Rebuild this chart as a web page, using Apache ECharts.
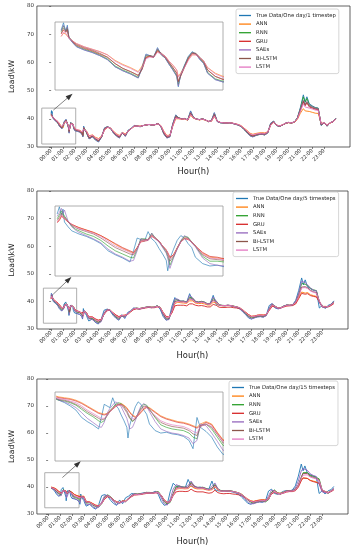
<!DOCTYPE html>
<html><head><meta charset="utf-8">
<script src="https://cdn.jsdelivr.net/npm/echarts@6/dist/echarts.min.js"></script>
<style>html,body{margin:0;padding:0;background:#fff}#c{width:353px;height:550px}</style>
</head><body><div id="c"></div>
<script>
// ---------- data ----------
const HOURS = [0,0.03,0.06,0.08,0.1,0.15,0.2,0.25,0.3,0.4,0.5,0.6,0.7,0.8,0.9,1,1.05,1.1,1.15,1.2,1.25,1.3,1.35,1.4,1.45,1.5,1.52,1.55,1.6,1.65,1.7,1.75,1.8,1.85,1.9,2,2.1,2.2,2.3,2.4,2.5,2.6,2.67,2.74,2.8,2.9,3,3.1,3.2,
 3.5,3.75, 4,4.25,4.5,4.75, 5,5.25,5.5,5.75, 6,6.25,6.5,6.75, 7,7.25,7.5,7.75, 8,8.25,8.5,8.75, 9,9.25,9.5,9.75, 10,10.25,10.5,10.75, 11,11.25,11.5,11.75, 12,12.25,12.5,12.75, 13,13.25,13.5,13.75, 14,14.25,14.5,14.75, 15,15.25,15.5,15.75, 16,16.25,16.5,16.75, 17,17.25,17.5,17.75, 18,18.25,18.5,18.75, 19,19.25,19.5,19.75, 20,20.25,20.5,20.75, 21,21.25,21.4,21.55,21.75, 22,22.25,22.5,22.75, 23,23.25,23.5,23.75, 23.98];
const TICK_HOURS = [0,1,2,3,4,5,6,7,8,9,10,11,12,13,14,15,16,17,18,19,20,21,22,23];
const TICK_LABELS = ['00:00','01:00','02:00','03:00','04:00','05:00','06:00','07:00','08:00','09:00','10:00','11:00','12:00','13:00','14:00','15:00','16:00','17:00','18:00','19:00','20:00','21:00','22:00','23:00'];
const Y_TICKS = [30,40,50,60,70,80];
const MODEL_NAMES = ['ANN','RNN','GRU','SAEs','Bi-LSTM','LSTM'];
const TRUE_NAMES = ['True Data/One day/1 timestep','True Data/One day/5 timesteps','True Data/One day/15 timesteps'];
const P3_START_HOUR = 0.25;

const TRUE_LOAD = [42.0,42.9,41.8,42.6,41.0,40.4,39.9,39.7,39.5,39.2,38.8,38.3,37.4,36.9,36.5,36.0,37.4,39.0,38.8,38.6,39.8,38.9,38.5,37.7,37.0,36.2,34.9,36.4,37.6,38.7,39.3,39.0,38.3,37.8,36.6,35.8,35.5,35.6,35.4,35.3,35.1,34.6,33.6,37.4,36.2,35.7,35.0,33.8,32.9,
 33.6,32.4, 31.8,33.5,36.8,37.2, 36.6,35.0,33.9,33.2, 35.2,33.8,36.0,36.6, 37.6,37.4,37.2,37.6, 37.8,38.0,37.7,37.9, 38.4,37.2,34.6,33.2, 33.6,38.3,41.4,40.3, 40.0,40.1,39.6,42.8, 40.4,39.9,39.7,40.0, 39.6,39.0,39.3,42.2, 39.0,38.6,38.5,38.4, 38.6,38.4,38.1,37.8, 37.3,36.2,35.2,34.0, 33.6,34.1,34.4,34.5, 34.3,35.0,38.5,39.2, 37.6,37.3,37.8,38.4, 38.7,38.5,38.9,40.4, 44.0,48.5,46.0,47.8,45.3, 44.6,44.0,43.8,37.6, 38.6,37.4,38.6,39.0, 40.2];

// panel 1: one day / 1 timestep
const P1_ANN = [41.2,41.6,41.5,41.6,41.0,40.6,40.3,40.1,39.9,39.6,39.3,38.9,38.2,37.7,37.3,36.8,37.5,38.6,38.7,38.6,39.3,39.0,38.7,38.1,37.6,37.0,36.2,36.6,37.4,38.3,38.9,38.9,38.5,38.1,37.3,36.6,36.2,36.2,36.0,35.9,35.8,35.4,34.8,36.3,36.2,36.0,35.6,34.8,34.0,
 34.3,33.4, 33.0,33.9,36.0,36.9, 36.7,35.6,34.7,34.1, 35.2,34.6,35.8,36.5, 37.3,37.4,37.4,37.6, 37.8,38.0,37.8,37.9, 38.2,37.6,35.6,34.1, 34.2,37.4,40.0,40.0, 39.8,39.9,39.5,41.2, 40.2,39.8,39.6,39.8, 39.5,39.0,39.1,40.8, 39.2,38.7,38.6,38.5, 38.6,38.5,38.2,38.0, 37.6,36.7,35.9,34.9, 34.5,34.8,35.0,35.1, 35.0,35.4,37.7,38.7, 37.8,37.5,37.9,38.3, 38.6,38.5,38.8,39.8, 42.0,43.6,42.8,43.2,42.6, 42.3,42.0,41.9,38.4, 38.5,37.9,38.5,38.9, 39.8];
const P1_RNN = [41.8,42.5,41.9,42.3,41.1,40.5,40.0,39.8,39.6,39.3,38.9,38.4,37.5,37.0,36.6,36.1,37.2,38.8,38.8,38.6,39.6,38.9,38.5,37.8,37.1,36.3,35.2,36.3,37.5,38.6,39.2,39.0,38.4,37.9,36.7,35.9,35.6,35.7,35.5,35.4,35.2,34.7,33.8,37.0,36.3,35.8,35.1,33.9,33.0,
 33.7,32.5, 32.0,33.6,36.6,37.2, 36.6,35.1,34.0,33.3, 35.1,33.9,35.9,36.6, 37.5,37.4,37.2,37.6, 37.8,38.0,37.7,37.9, 38.3,37.2,34.7,33.3, 33.7,38.0,41.1,40.3, 40.0,40.1,39.6,42.4, 40.4,39.9,39.7,40.0, 39.6,39.0,39.3,41.9, 39.1,38.6,38.5,38.4, 38.6,38.4,38.1,37.8, 37.3,36.2,35.2,34.1, 33.7,34.1,34.4,34.5, 34.3,35.0,38.3,39.1, 37.6,37.3,37.8,38.4, 38.7,38.5,38.9,40.3, 43.6,47.8,45.8,47.2,45.0, 44.4,43.9,43.7,37.8, 38.5,37.4,38.6,39.0, 40.1];
const P1_GRU = [41.5,42.0,41.7,42.0,41.0,40.5,40.1,39.9,39.7,39.4,39.0,38.6,37.8,37.2,36.8,36.3,37.1,38.5,38.7,38.6,39.4,39.0,38.6,37.9,37.3,36.6,35.6,36.2,37.3,38.4,39.1,39.0,38.5,38.0,37.0,36.2,35.8,35.9,35.7,35.6,35.4,35.0,34.2,36.6,36.3,35.9,35.3,34.2,33.3,
 33.9,32.8, 32.3,33.6,36.3,37.0, 36.7,35.3,34.3,33.6, 34.9,34.2,35.7,36.5, 37.4,37.4,37.3,37.6, 37.8,38.0,37.8,37.9, 38.3,37.4,35.1,33.6, 33.9,37.7,40.6,40.2, 40.0,40.0,39.6,41.8, 40.3,39.9,39.7,39.9, 39.6,39.1,39.2,41.3, 39.2,38.7,38.6,38.5, 38.6,38.4,38.2,37.9, 37.4,36.5,35.5,34.4, 34.0,34.3,34.6,34.7, 34.6,35.1,37.9,38.9, 37.7,37.4,37.8,38.4, 38.7,38.5,38.8,40.1, 43.0,46.0,44.6,45.6,44.2, 43.8,43.4,43.2,38.0, 38.5,37.6,38.5,38.9, 40.0];
const P1_SAES = [41.9,42.6,41.9,42.4,41.1,40.4,39.9,39.7,39.5,39.2,38.8,38.3,37.4,36.9,36.5,36.0,37.2,38.9,38.8,38.6,39.7,38.9,38.5,37.7,37.0,36.2,35.0,36.3,37.5,38.6,39.2,39.0,38.3,37.8,36.6,35.8,35.5,35.6,35.4,35.3,35.1,34.6,33.7,37.1,36.2,35.7,35.0,33.8,32.9,
 33.6,32.5, 31.9,33.5,36.7,37.2, 36.6,35.0,33.9,33.2, 35.1,33.8,35.9,36.6, 37.6,37.4,37.2,37.6, 37.8,38.0,37.7,37.9, 38.4,37.2,34.6,33.2, 33.6,38.2,41.2,40.3, 40.0,40.1,39.6,42.5, 40.4,39.9,39.7,40.0, 39.6,39.0,39.3,42.0, 39.0,38.6,38.5,38.4, 38.6,38.4,38.1,37.8, 37.3,36.2,35.2,34.0, 33.6,34.1,34.4,34.5, 34.3,35.0,38.4,39.1, 37.6,37.3,37.8,38.4, 38.7,38.5,38.9,40.3, 43.5,46.6,45.2,46.2,44.8, 44.3,43.8,43.6,37.8, 38.6,37.4,38.6,39.0, 40.1];
const P1_BILSTM = [41.6,42.2,41.8,42.1,41.1,40.6,40.2,40.0,39.8,39.5,39.1,38.6,37.8,37.2,36.8,36.35,37.1,38.6,38.8,38.7,39.5,39.1,38.7,38.0,37.3,36.6,35.5,36.3,37.4,38.5,39.1,39.1,38.6,38.1,37.0,36.2,35.85,35.9,35.7,35.6,35.4,34.9,34.0,36.8,36.4,35.9,35.3,34.1,33.2,
 33.9,32.8, 32.2,33.6,36.5,37.1, 36.7,35.3,34.2,33.5, 35.0,34.1,35.8,36.5, 37.5,37.4,37.3,37.6, 37.8,38.0,37.8,37.9, 38.3,37.4,34.9,33.5, 33.8,37.9,40.8,40.3, 40.0,40.1,39.6,42.0, 40.4,39.9,39.7,40.0, 39.6,39.1,39.3,41.5, 39.1,38.7,38.6,38.5, 38.6,38.5,38.2,37.9, 37.4,36.4,35.4,34.3, 33.9,34.3,34.6,34.7, 34.6,35.2,38.1,39.0, 37.7,37.4,37.8,38.4, 38.7,38.6,38.9,40.2, 43.2,46.3,44.9,45.9,44.5, 44.0,43.6,43.4,38.0, 38.6,37.6,38.6,39.0, 40.0];
const P1_LSTM = [41.2,41.7,41.6,41.8,41.0,40.6,40.3,40.1,39.9,39.6,39.3,38.9,38.1,37.6,37.2,36.7,37.3,38.4,38.6,38.6,39.2,39.0,38.7,38.1,37.6,37.0,36.1,36.5,37.3,38.2,38.9,38.9,38.5,38.1,37.3,36.5,36.1,36.1,36.0,35.9,35.7,35.3,34.6,36.3,36.2,35.9,35.5,34.6,33.8,
 34.2,33.2, 32.7,33.8,36.1,37.0, 36.7,35.5,34.5,33.9, 35.1,34.4,35.7,36.5, 37.4,37.4,37.3,37.6, 37.8,38.0,37.8,37.9, 38.2,37.5,35.4,33.9, 34.0,37.5,40.3,40.1, 39.9,40.0,39.6,41.5, 40.3,39.9,39.7,39.9, 39.6,39.1,39.2,41.0, 39.2,38.7,38.6,38.5, 38.6,38.5,38.2,38.0, 37.5,36.6,35.7,34.7, 34.3,34.6,34.8,34.9, 34.8,35.3,37.8,38.8, 37.8,37.5,37.9,38.4, 38.7,38.6,38.9,40.0, 42.6,45.3,44.2,44.9,43.8, 43.5,43.1,43.0,38.3, 38.6,37.8,38.6,39.0, 39.9];

// panel 2: one day / 5 timesteps
const P2_ANN = [41.0,41.3,41.8,41.6,41.5,41.0,40.7,40.5,40.3,40.0,39.7,39.3,38.8,38.2,37.7,37.3,37.1,37.8,38.6,38.7,38.8,39.3,39.0,38.6,38.0,37.5,37.1,36.5,36.9,37.8,38.6,39.0,38.9,38.5,38.0,37.1,36.6,36.5,36.4,36.2,36.1,35.8,35.2,35.0,36.4,36.3,35.9,35.2,34.3,
 34.3,33.6, 33.1,33.4,35.4,36.7, 36.9,35.9,35.0,34.4, 34.9,35.0,35.3,36.3, 37.2,37.5,37.4,37.6, 37.8,38.0,37.9,37.9, 38.2,37.9,36.1,34.5, 34.2,36.0,39.2,39.7, 39.5,39.4,39.3,40.2, 40.2,39.4,39.2,39.3, 39.1,38.7,38.7,39.7, 39.4,38.6,38.4,38.4, 38.5,38.5,38.2,38.0, 37.7,37.0,36.1,35.2, 34.6,34.7,35.0,35.1, 35.1,35.2,36.9,38.5, 38.2,37.6,37.8,38.2, 38.6,38.6,38.7,39.4, 41.5,43.4,43.7,43.0,43.2, 42.4,42.1,41.8,40.0, 38.2,38.2,38.1,38.7, 39.5];
const P2_RNN = [41.4,41.9,42.4,42.0,42.2,41.1,40.5,40.1,39.9,39.5,39.2,38.7,38.0,37.4,37.0,36.6,36.5,37.6,38.9,38.9,38.8,39.6,39.0,38.6,37.9,37.2,36.7,35.6,36.6,37.7,38.6,39.2,39.1,38.5,38.0,36.7,36.1,36.1,36.0,35.9,35.7,35.3,34.5,34.4,36.6,36.3,35.7,35.0,33.9,
 33.8,32.9, 32.3,32.9,35.6,37.1, 37.0,35.5,34.3,33.6, 34.6,34.5,35.3,36.5, 37.4,37.6,37.4,37.6, 37.9,38.1,37.9,37.9, 38.4,37.8,35.4,33.6, 33.6,36.8,40.5,40.6, 40.1,40.1,39.8,41.5, 41.2,40.0,39.8,40.0, 39.8,39.2,39.3,41.0, 40.2,38.8,38.6,38.5, 38.6,38.5,38.3,38.0, 37.6,36.7,35.6,34.5, 34.0,34.2,34.5,34.6, 34.5,34.9,37.3,39.0, 38.3,37.5,37.7,38.3, 38.7,38.6,38.8,39.9, 42.5,46.5,46.6,46.2,45.8, 44.7,44.2,43.9,40.0, 38.1,37.8,38.2,38.9, 39.8];
const P2_GRU = [40.9,41.2,41.7,41.5,41.4,41.0,40.7,40.5,40.3,40.0,39.7,39.3,38.8,38.3,37.8,37.4,37.2,37.8,38.5,38.6,38.7,39.2,38.9,38.6,38.0,37.5,37.2,36.6,36.9,37.7,38.5,38.9,38.8,38.5,38.0,37.2,36.7,36.6,36.4,36.3,36.1,35.8,35.3,35.1,36.3,36.3,35.9,35.3,34.4,
 34.4,33.7, 33.2,33.5,35.3,36.6, 36.8,35.9,35.1,34.5, 34.9,35.0,35.3,36.2, 37.0,37.3,37.2,37.4, 37.6,37.8,37.7,37.7, 38.0,37.7,36.0,34.6, 34.3,35.8,38.4,38.6, 38.6,38.6,38.4,39.1, 39.1,38.6,38.4,38.5, 38.3,38.0,38.0,38.9, 38.6,37.9,37.8,37.8, 37.9,37.9,37.7,37.6, 37.3,36.8,36.0,35.2, 34.6,34.7,35.0,35.1, 35.0,35.2,36.7,38.2, 38.0,37.5,37.6,38.0, 38.3,38.4,38.5,39.1, 41.0,42.9,43.3,42.6,42.8, 42.1,41.8,41.6,39.8, 38.0,38.0,38.0,38.5, 39.2];
const P2_SAES = [41.7,42.2,42.7,42.1,42.5,41.1,40.4,40.0,39.7,39.3,38.9,38.4,37.6,37.0,36.6,36.1,36.2,37.4,38.9,38.8,38.7,39.6,38.9,38.5,37.8,37.1,36.5,35.2,36.5,37.6,38.7,39.3,39.0,38.4,37.9,36.5,35.8,35.6,35.5,35.4,35.2,34.8,33.9,33.8,36.8,36.1,35.6,34.9,33.7,
 33.4,32.6, 32.0,32.6,35.9,37.2, 36.9,35.3,34.0,33.3, 34.8,34.1,35.6,36.5, 37.5,37.5,37.3,37.5, 37.8,38.0,37.8,37.8, 38.3,37.6,35.0,33.3, 33.4,37.3,40.9,40.8, 40.1,40.1,39.7,42.2, 41.3,40.0,39.7,39.9, 39.7,39.1,39.2,41.6, 40.1,38.7,38.5,38.4, 38.6,38.4,38.2,37.9, 37.5,36.4,35.3,34.2, 33.7,34.0,34.4,34.5, 34.3,34.8,37.7,39.2, 38.0,37.3,37.6,38.3, 38.7,38.5,38.8,40.1, 43.0,47.3,46.9,46.8,46.0, 44.8,44.1,43.8,39.5, 37.9,37.7,38.1,38.9, 40.0];
const P2_BILSTM = [41.2,41.6,42.1,41.8,41.9,41.1,40.6,40.3,40.1,39.8,39.5,39.0,38.4,37.8,37.4,37.0,36.9,37.7,38.7,38.8,38.8,39.4,39.0,38.6,38.0,37.4,37.0,36.1,36.7,37.7,38.5,39.0,39.0,38.5,38.0,36.9,36.4,36.3,36.2,36.1,35.9,35.5,34.9,34.7,36.5,36.3,35.8,35.1,34.1,
 34.0,33.2, 32.6,33.1,35.6,36.9, 36.9,35.7,34.6,34.0, 34.8,34.7,35.4,36.4, 37.3,37.5,37.4,37.6, 37.8,38.0,37.9,37.9, 38.3,37.8,35.7,34.0, 33.9,36.5,39.9,40.2, 39.9,39.9,39.6,41.0, 40.8,39.8,39.6,39.8, 39.6,39.0,39.1,40.5, 39.8,38.7,38.5,38.5, 38.6,38.5,38.2,38.0, 37.6,36.8,35.8,34.8, 34.3,34.4,34.7,34.8, 34.7,35.1,37.1,38.8, 38.2,37.6,37.7,38.3, 38.6,38.6,38.8,39.7, 42.1,45.2,45.8,45.3,45.0, 44.0,43.5,43.2,40.0, 38.1,37.9,38.2,38.8, 39.6];
const P2_LSTM = [41.0,41.4,41.9,41.6,41.7,41.1,40.7,40.4,40.2,39.9,39.6,39.2,38.6,38.0,37.6,37.2,37.0,37.7,38.6,38.7,38.8,39.3,39.0,38.6,38.0,37.5,37.1,36.4,36.8,37.7,38.5,38.9,38.9,38.5,38.0,37.0,36.5,36.4,36.3,36.2,36.0,35.7,35.1,34.9,36.4,36.3,35.8,35.2,34.2,
 34.2,33.4, 32.9,33.3,35.5,36.8, 36.9,35.8,34.8,34.2, 34.9,34.8,35.4,36.4, 37.3,37.5,37.4,37.6, 37.8,38.0,37.9,37.9, 38.2,37.8,35.9,34.3, 34.1,36.3,39.6,40.0, 39.8,39.8,39.5,40.7, 40.6,39.7,39.5,39.7, 39.5,39.0,39.0,40.2, 39.7,38.7,38.5,38.5, 38.6,38.5,38.2,38.0, 37.7,36.9,36.0,35.0, 34.5,34.6,34.9,35.0, 34.9,35.2,37.0,38.7, 38.2,37.6,37.7,38.2, 38.6,38.6,38.8,39.6, 41.9,44.9,45.5,45.0,44.7, 43.8,43.3,43.0,40.2, 38.2,38.0,38.2,38.8, 39.5];

// panel 3: one day / 15 timesteps (starts at 00:15)
const P3_ANN = [null,null,null,null,null,null,null, 40.0,39.9,39.8,39.7,39.5,39.2,38.8,38.4,38.0, 37.9,37.8,37.9,38.2,38.5,38.8,39.0,39.1,38.9,38.6, 38.4,38.1,37.7,37.5,37.7,38.1,38.5,38.7,38.6, 38.1,37.6,37.3,37.1,36.9,36.8,36.6, 36.4,36.2,36.6,36.9,36.6,35.6,34.7,
 34.5,33.9, 33.3,33.1,34.0,35.8, 36.6,36.2,35.2,34.5, 34.3,34.9,34.8,35.7, 36.6,37.2,37.3,37.4, 37.6,37.8,37.9,37.8, 38.0,38.0,37.0,35.2, 34.3,34.8,37.4,39.2, 39.4,39.4,39.3,39.4, 40.4,39.6,39.3,39.3, 39.3,39.0,38.8,39.0, 40.0,38.9,38.5,38.4, 38.5,38.5,38.3,38.1, 37.8,37.3,36.4,35.6, 34.9,34.7,35.0,35.2, 35.3,35.2,35.8,37.9, 38.6,37.9,37.7,38.1, 38.5,38.7,38.6,39.0, 40.4,42.6,43.4,43.0,43.2, 42.5,42.2,41.9,41.5, 38.7,38.4,38.0,38.6, 39.2];
const P3_RNN = [null,null,null,null,null,null,null, 39.6,39.5,39.4,39.2,38.9,38.4,37.9,37.5,37.0, 36.8,37.0,37.6,38.2,38.6,39.0,39.2,39.1,38.7,38.2, 37.9,37.4,36.9,37.2,37.9,38.6,39.0,38.9,38.4, 37.4,36.5,36.2,36.0,35.9,35.8,35.5, 35.0,34.8,36.4,36.6,36.0,35.0,34.0,
 34.2,33.3, 32.7,32.6,33.9,36.4, 37.1,36.4,35.1,34.2, 34.1,34.8,34.5,35.8, 36.8,37.5,37.4,37.4, 37.7,38.0,38.0,37.8, 38.1,38.3,36.8,34.5, 33.7,34.3,37.6,40.3, 40.4,40.0,40.0,39.8, 41.8,40.4,39.9,39.8, 39.9,39.5,39.1,39.4, 41.0,39.3,38.7,38.5, 38.5,38.6,38.4,38.1, 37.8,37.2,36.2,35.2, 34.4,34.0,34.3,34.6, 34.7,34.5,35.3,38.0, 38.9,37.8,37.4,37.9, 38.4,38.7,38.6,39.0, 40.6,43.4,45.3,44.6,45.4, 44.3,44.0,43.6,43.0, 38.8,38.3,37.7,38.5, 39.2];
const P3_GRU = [null,null,null,null,null,null,null, 39.9,39.8,39.7,39.6,39.4,39.1,38.7,38.3,37.9, 37.8,37.7,37.8,38.1,38.4,38.7,38.9,39.0,38.8,38.5, 38.3,38.0,37.6,37.4,37.6,38.0,38.4,38.6,38.5, 38.0,37.5,37.2,37.0,36.8,36.7,36.5, 36.3,36.1,36.4,36.8,36.5,35.5,34.6,
 34.4,33.8, 33.2,33.0,33.9,35.6, 36.4,36.1,35.2,34.5, 34.2,34.8,34.7,35.5, 36.4,37.0,37.1,37.2, 37.4,37.6,37.7,37.6, 37.8,37.8,36.8,35.1, 34.3,34.7,36.8,38.2, 38.4,38.4,38.3,38.4, 39.2,38.5,38.2,38.2, 38.2,37.9,37.7,37.9, 38.8,37.9,37.6,37.5, 37.6,37.6,37.4,37.3, 37.1,36.7,36.1,35.4, 34.8,34.6,34.9,35.1, 35.2,35.1,35.6,37.4, 38.0,37.5,37.4,37.7, 38.1,38.3,38.3,38.6, 39.9,42.3,43.3,42.8,43.2, 42.4,42.0,41.7,41.3, 38.6,38.2,37.8,38.3, 38.9];
const P3_SAES = [null,null,null,null,null,null,null, 39.7,39.5,39.3,39.0,38.6,38.0,37.3,36.8,36.3, 36.2,36.8,37.9,38.5,38.9,39.3,39.1,38.7,38.0,37.3, 36.8,36.0,36.2,37.0,38.0,38.8,39.1,38.8,38.1, 36.9,36.0,35.7,35.5,35.4,35.2,34.9, 34.2,34.6,36.6,36.4,35.5,34.5,33.4,
 33.6,32.8, 32.1,32.5,34.5,36.8, 37.0,35.9,34.5,33.5, 34.0,34.4,34.6,35.9, 37.0,37.5,37.3,37.4, 37.7,37.9,37.9,37.8, 38.2,38.0,35.9,33.8, 33.3,35.5,39.2,40.9, 40.4,40.0,39.9,40.5, 42.2,40.5,39.9,39.8, 39.9,39.3,39.1,40.2, 41.5,39.3,38.6,38.5, 38.5,38.5,38.3,38.0, 37.6,36.8,35.7,34.6, 33.8,33.8,34.2,34.5, 34.5,34.6,36.7,38.8, 38.6,37.5,37.4,38.0, 38.5,38.6,38.7,39.6, 42.2,46.0,46.8,46.4,46.2, 44.9,44.3,43.9,41.0, 38.2,37.9,37.8,38.6, 39.6];
const P3_BILSTM = [null,null,null,null,null,null,null, 39.7,39.6,39.5,39.3,39.0,38.6,38.1,37.7,37.3, 37.1,37.2,37.6,38.1,38.5,38.9,39.0,38.9,38.5,38.0, 37.7,37.3,37.0,37.2,37.8,38.4,38.8,38.7,38.3, 37.5,36.8,36.5,36.3,36.2,36.1,35.8, 35.4,35.2,36.3,36.6,36.2,35.3,34.3,
 34.2,33.5, 32.9,32.8,33.9,36.0, 36.8,36.2,35.0,34.3, 34.2,34.8,34.6,35.7, 36.7,37.3,37.3,37.4, 37.6,37.9,37.9,37.8, 38.0,38.1,36.8,34.8, 34.0,34.6,37.3,39.7, 40.0,39.8,39.8,39.7, 41.4,40.2,39.7,39.6, 39.7,39.3,39.0,39.3, 40.7,39.2,38.6,38.5, 38.5,38.6,38.4,38.1, 37.8,37.2,36.3,35.3, 34.6,34.3,34.6,34.8, 34.9,34.8,35.5,37.8, 38.7,37.8,37.5,37.9, 38.4,38.6,38.6,39.0, 40.8,43.7,45.0,44.5,45.0, 44.0,43.6,43.2,42.6, 38.8,38.3,37.8,38.5, 39.2];
const P3_LSTM = [null,null,null,null,null,null,null, 39.8,39.7,39.6,39.4,39.2,38.8,38.3,37.9,37.5, 37.3,37.3,37.6,38.1,38.5,38.8,38.9,38.9,38.6,38.2, 37.9,37.6,37.2,37.3,37.8,38.3,38.7,38.6,38.3, 37.6,37.0,36.7,36.5,36.4,36.3,36.0, 35.7,35.5,36.3,36.6,36.3,35.4,34.5,
 34.3,33.6, 33.0,32.9,33.9,35.9, 36.7,36.2,35.1,34.4, 34.2,34.8,34.6,35.6, 36.6,37.2,37.2,37.3, 37.6,37.8,37.8,37.7, 37.9,38.0,36.9,35.0, 34.2,34.6,37.1,39.3, 39.7,39.6,39.6,39.6, 41.0,40.0,39.6,39.5, 39.6,39.2,38.9,39.2, 40.3,39.1,38.5,38.4, 38.5,38.5,38.3,38.1, 37.8,37.2,36.3,35.4, 34.7,34.4,34.7,34.9, 35.0,34.9,35.5,37.6, 38.5,37.7,37.5,37.8, 38.3,38.5,38.5,38.9, 40.5,43.2,44.4,44.0,44.5, 43.7,43.3,43.0,42.4, 38.9,38.3,37.9,38.5, 39.1];

// ---------- layout / styling ----------
const COLORS = ['#1f77b4','#ff7f0e','#2ca02c','#d62728','#9467bd','#8c564b','#e377c2'];
const PANELS = [
  {trueName: TRUE_NAMES[0], models:[P1_ANN,P1_RNN,P1_GRU,P1_SAES,P1_BILSTM,P1_LSTM], start:0,
   main:{left:27, top:6, width:323, height:141}, xr:[-1.2,25.18], nameGap:21, yNameGap:16,
   inset:{left:55, top:22, width:168, height:68}, ix:[-0.08,2.1], iy:[34.5,43.0],
   box:[[-0.79,31.06],[2.07,43.8]], arrow:[[0.19,43.1],[1.58,48.1]],
   legend:{left:236, top:9}},
  {trueName: TRUE_NAMES[1], models:[P2_ANN,P2_RNN,P2_GRU,P2_SAES,P2_BILSTM,P2_LSTM], start:0,
   main:{left:29, top:191, width:319, height:138}, xr:[-1.2,25.18], nameGap:23, yNameGap:15,
   inset:{left:55, top:206, width:168, height:70}, ix:[-0.03,2.28], iy:[34.25,43.0],
   box:[[-0.65,32.1],[2.17,44.8]], arrow:[[0.18,42.6],[1.51,48.0]],
   legend:{left:233, top:192}},
  {trueName: TRUE_NAMES[2], models:[P3_ANN,P3_RNN,P3_GRU,P3_SAES,P3_BILSTM,P3_LSTM], start:P3_START_HOUR,
   main:{left:27, top:379, width:321, height:135}, xr:[-0.94,25.17], nameGap:24, yNameGap:16,
   inset:{left:55, top:392, width:168, height:69}, ix:[0.23,3.2], iy:[32.1,40.5],
   box:[[-0.28,32.3],[2.6,45.3]], arrow:[[1.2,43.5],[2.52,48.7]],
   legend:{left:229, top:381}}
];

function pts(arr, start){
  const out=[];
  for(let i=0;i<HOURS.length;i++){
    const v=arr[i];
    if(v===null||v===undefined||HOURS[i]<start) continue;
    out.push([HOURS[i], v]);
  }
  return out;
}

const FONT = 'DejaVu Sans';
const grid=[], xAxis=[], yAxis=[], series=[], legend=[];
PANELS.forEach((p, pi)=>{
  const mi = grid.length;
  grid.push(Object.assign({show:true, borderColor:'#3a3a3a', borderWidth:0.8, backgroundColor:'transparent', containLabel:false}, p.main));
  const ii = grid.length;
  grid.push(Object.assign({show:true, borderColor:'#9a9a9a', borderWidth:0.8, backgroundColor:'#fff', containLabel:false}, p.inset));
  xAxis.push({gridIndex:mi, type:'value', min:p.xr[0], max:p.xr[1],
    axisLine:{show:false}, splitLine:{show:false},
    axisTick:{show:true, length:2, customValues:TICK_HOURS, lineStyle:{color:'#333', width:0.6}},
    axisLabel:{customValues:TICK_HOURS, rotate:45, fontSize:5.2, margin:3, color:'#333', fontFamily:FONT,
      formatter:v=>TICK_LABELS[Math.round(v)]},
    name:'Hour(h)', nameLocation:'middle', nameGap:p.nameGap, nameTextStyle:{fontSize:8.3, color:'#222', fontFamily:FONT}});
  yAxis.push({gridIndex:mi, type:'value', min:Y_TICKS[0], max:Y_TICKS[Y_TICKS.length-1], interval:10,
    axisLine:{show:false}, splitLine:{show:false},
    axisTick:{show:true, length:2, lineStyle:{color:'#333', width:0.6}},
    axisLabel:{fontSize:5.5, margin:3, color:'#333', fontFamily:FONT},
    name:'Load\\kW', nameLocation:'middle', nameGap:p.yNameGap, nameTextStyle:{fontSize:7.7, color:'#222', fontFamily:FONT}});
  xAxis.push({gridIndex:ii, type:'value', min:p.ix[0], max:p.ix[1], show:false});
  yAxis.push({gridIndex:ii, type:'value', min:p.iy[0], max:p.iy[1], show:false});

  const all = [TRUE_LOAD].concat(p.models);
  const names = [p.trueName].concat(MODEL_NAMES);
  all.forEach((arr,k)=>{
    const data = pts(arr, p.start);
    const s = {type:'line', name:names[k], xAxisIndex:mi, yAxisIndex:mi, data:data,
      showSymbol:false, symbol:'none', silent:true, animation:false, z:2+k,
      lineStyle:{width:0.9, color:COLORS[k]}, itemStyle:{color:COLORS[k]}, emphasis:{disabled:true}};
    if(k===0){
      s.markArea = {silent:true, itemStyle:{color:'rgba(0,0,0,0)', borderColor:'#9a9a9a', borderWidth:0.8},
        data:[[{coord:p.box[0]},{coord:p.box[1]}]]};
      s.markLine = {silent:true, symbol:['none','triangle'], symbolSize:[5,7], animation:false,
        lineStyle:{color:'#333', width:0.6, type:'solid'}, label:{show:false},
        data:[[{coord:p.arrow[0]},{coord:p.arrow[1]}]]};
    }
    series.push(s);
    series.push({type:'line', name:names[k], xAxisIndex:ii, yAxisIndex:ii, data:data,
      showSymbol:false, symbol:'none', silent:true, animation:false, z:2+k, clip:true,
      lineStyle:{width:0.8, color:COLORS[k], opacity:0.8}, itemStyle:{color:COLORS[k]}, emphasis:{disabled:true}});
  });
  legend.push({orient:'vertical', left:p.legend.left, top:p.legend.top, data:names, icon:'rect',
    itemWidth:12, itemHeight:1.3, itemGap:1.6, padding:[3,3,3,3], selectedMode:false,
    borderColor:'#cccccc', borderWidth:0.8, borderRadius:2, backgroundColor:'#fff',
    textStyle:{fontSize:5.3, lineHeight:7, color:'#222', fontFamily:FONT}});
});

const chart = echarts.init(document.getElementById('c'), null, {renderer:'canvas'});
chart.setOption({animation:false, textStyle:{fontFamily:FONT}, grid, xAxis, yAxis, series, legend});
</script>
</body></html>
